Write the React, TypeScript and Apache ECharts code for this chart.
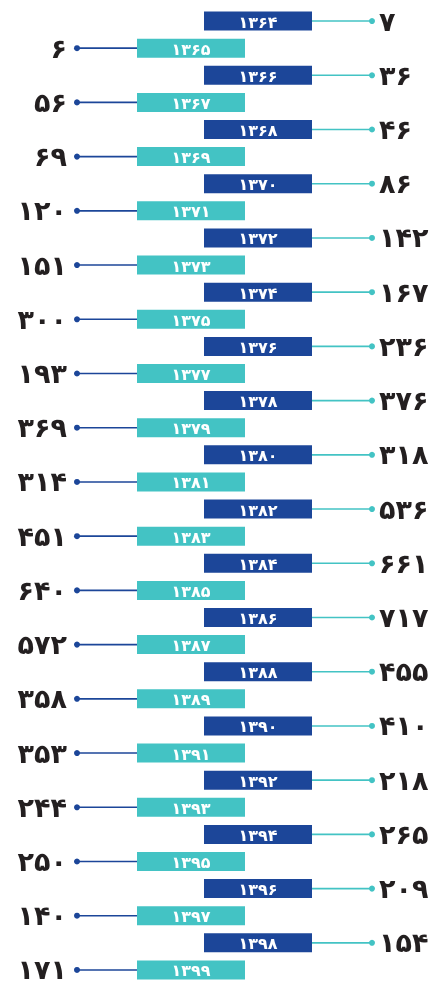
import React, { useEffect, useRef } from "react";
import * as echarts from "echarts";

const years = [
  1364, 1365, 1366, 1367, 1368, 1369, 1370, 1371, 1372, 1373, 1374, 1375,
  1376, 1377, 1378, 1379, 1380, 1381, 1382, 1383, 1384, 1385, 1386, 1387,
  1388, 1389, 1390, 1391, 1392, 1393, 1394, 1395, 1396, 1397, 1398, 1399,
];
const values = [
  7, 6, 36, 56, 46, 69, 86, 120, 142, 151, 167, 300,
  236, 193, 376, 369, 318, 314, 536, 451, 661, 640, 717, 572,
  455, 358, 410, 353, 218, 244, 265, 250, 209, 140, 154, 171,
];

const DARK = "#1c4699";
const TEAL = "#43c3c4";
const TEXT = "#231f20";
const FA = "۰۱۲۳۴۵۶۷۸۹";
const toFa = (n: number) => String(n).replace(/\d/g, (d) => FA[Number(d)]);

export default function App() {
  const ref = useRef<HTMLDivElement>(null);
  useEffect(() => {
    if (!ref.current) return;
    const chart = echarts.init(ref.current, undefined, { renderer: "svg" });
    const data = values.map((v, i) => [i, v]);
    chart.setOption({
      animation: false,
      grid: { left: 0, right: 0, top: 7.5, bottom: 0.5 },
      xAxis: { type: "value", min: 0, max: 433, show: false },
      yAxis: {
        type: "category",
        inverse: true,
        show: false,
        data: years.map((y) => toFa(y)),
      },
      series: [
        {
          type: "custom",
          data,
          encode: { x: 1, y: 0 },
          renderItem: (params: any, api: any) => {
            const i = api.value(0);
            const v = api.value(1);
            const right = params.dataIndex % 2 === 0;
            const yc = api.coord([0, i])[1];
            const band = api.size([0, 1])[1];
            const h = band * 0.7;
            const bx0 = api.coord([right ? 204 : 137, i])[0];
            const bx1 = api.coord([right ? 312 : 245, i])[0];
            const lx = right ? bx1 : api.coord([77, i])[0];
            const lx1 = right ? api.coord([372, i])[0] : bx0;
            const dotX = right ? lx1 : lx;
            const lineColor = right ? TEAL : DARK;
            return {
              type: "group",
              children: [
                {
                  type: "line",
                  shape: { x1: lx, y1: yc, x2: lx1, y2: yc },
                  style: { stroke: lineColor, lineWidth: 1.6 },
                },
                {
                  type: "circle",
                  shape: { cx: dotX, cy: yc, r: 3 },
                  style: { fill: lineColor },
                },
                {
                  type: "rect",
                  shape: { x: bx0, y: yc - h / 2, width: bx1 - bx0, height: h },
                  style: { fill: right ? DARK : TEAL },
                },
                {
                  type: "text",
                  style: {
                    x: (bx0 + bx1) / 2,
                    y: yc + 1,
                    text: toFa(years[params.dataIndex]),
                    fill: "#ffffff",
                    font: "bold 16px 'DejaVu Sans'",
                    align: "center",
                    verticalAlign: "middle",
                  },
                },
                {
                  type: "text",
                  style: {
                    x: right ? api.coord([379, i])[0] : api.coord([67, i])[0],
                    y: yc,
                    text: toFa(v),
                    fill: TEXT,
                    font: "bold 27px 'DejaVu Sans'",
                    align: right ? "left" : "right",
                    verticalAlign: "middle",
                  },
                },
              ],
            };
          },
        },
      ],
    });
    return () => chart.dispose();
  }, []);
  return (
    <div
      ref={ref}
      style={{ position: "fixed", left: 0, top: 0, width: 433, height: 984 }}
    />
  );
}
